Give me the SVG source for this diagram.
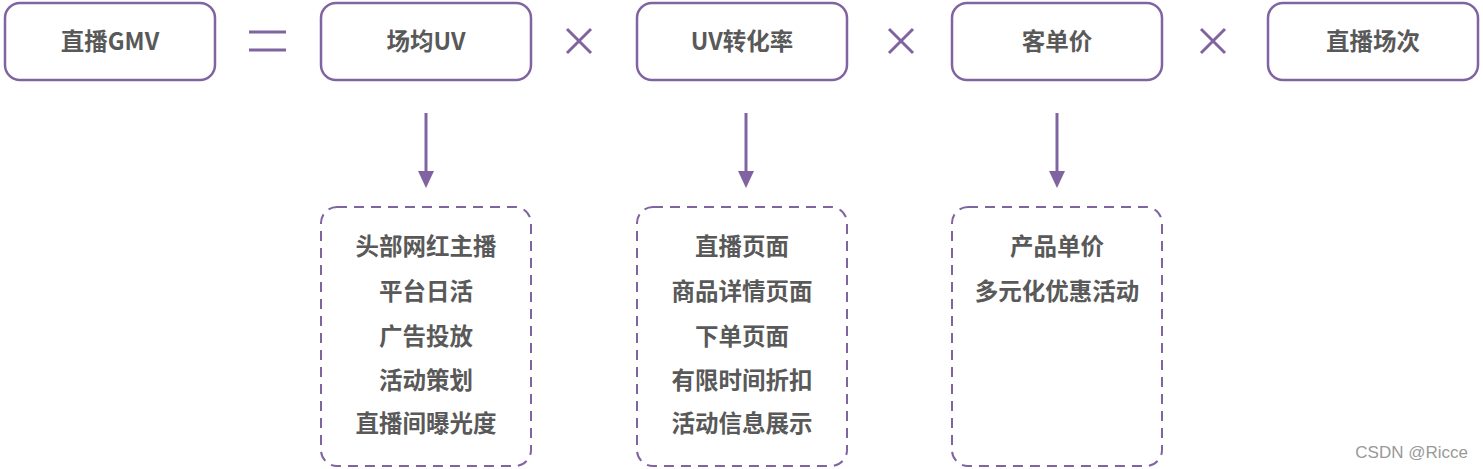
<svg xmlns="http://www.w3.org/2000/svg" width="1483" height="469" viewBox="0 0 1483 469">
  <defs>
    <style>
      .box { fill: #ffffff; stroke: #8064A2; stroke-width: 2.5; }
      .dbox { fill: none; stroke: #8064A2; stroke-width: 2; stroke-dasharray: 10 7; }
      .op { stroke: #8064A2; stroke-width: 3; fill: none; }
      .conn { stroke: #8064A2; stroke-width: 3; fill: none; }
      .t { font-family: "Noto Sans CJK SC", "Liberation Sans", sans-serif; font-weight: bold; font-size: 23.5px; fill: #595959; text-anchor: middle; dominant-baseline: central; }
      .wm { font-family: "Liberation Sans", sans-serif; font-size: 17px; fill: #999999; text-anchor: end; }
    </style>
  </defs>
  <rect width="1483" height="469" fill="#ffffff"/>

  <!-- top row: formula terms -->
  <g id="gmv"><rect class="box" x="5" y="3" width="210" height="77" rx="15"/><text class="t" x="110" y="40">直播GMV</text></g>
  <g id="uv"><rect class="box" x="321" y="3" width="210" height="77" rx="15"/><text class="t" x="426" y="40">场均UV</text></g>
  <g id="cvr"><rect class="box" x="637" y="3" width="210" height="77" rx="15"/><text class="t" x="742" y="40">UV转化率</text></g>
  <g id="aov"><rect class="box" x="952" y="3" width="210" height="77" rx="15"/><text class="t" x="1057" y="40">客单价</text></g>
  <g id="sessions"><rect class="box" x="1268" y="3" width="210" height="77" rx="15"/><text class="t" x="1373" y="40">直播场次</text></g>

  <!-- operators -->
  <g id="operators">
    <path class="op" d="M249,32 H286 M249,50 H286"/>
    <path class="op" d="M567,29 L591,53 M591,29 L567,53"/>
    <path class="op" d="M889,29 L913,53 M913,29 L889,53"/>
    <path class="op" d="M1201,29 L1225,53 M1225,29 L1201,53"/>
  </g>

  <!-- connectors -->
  <g id="connectors">
    <line class="conn" x1="426" y1="113" x2="426" y2="178"/>
    <path d="M418,171 L434,171 L426,188 Z" fill="#8064A2"/>
    <line class="conn" x1="746" y1="113" x2="746" y2="178"/>
    <path d="M738,171 L754,171 L746,188 Z" fill="#8064A2"/>
    <line class="conn" x1="1057" y1="113" x2="1057" y2="178"/>
    <path d="M1049,171 L1065,171 L1057,188 Z" fill="#8064A2"/>
  </g>

  <!-- factor details -->
  <g id="uv-factors">
    <rect class="dbox" x="321" y="207" width="210" height="259" rx="16"/>
    <text class="t" x="426" y="245">头部网红主播</text>
    <text class="t" x="426" y="290">平台日活</text>
    <text class="t" x="426" y="335">广告投放</text>
    <text class="t" x="426" y="379">活动策划</text>
    <text class="t" x="426" y="422">直播间曝光度</text>
  </g>
  <g id="cvr-factors">
    <rect class="dbox" x="637" y="207" width="210" height="259" rx="16"/>
    <text class="t" x="742" y="245">直播页面</text>
    <text class="t" x="742" y="290">商品详情页面</text>
    <text class="t" x="742" y="335">下单页面</text>
    <text class="t" x="742" y="379">有限时间折扣</text>
    <text class="t" x="742" y="422">活动信息展示</text>
  </g>
  <g id="aov-factors">
    <rect class="dbox" x="952" y="207" width="210" height="259" rx="16"/>
    <text class="t" x="1057" y="245">产品单价</text>
    <text class="t" x="1057" y="290">多元化优惠活动</text>
  </g>

  <text class="wm" x="1468" y="458">CSDN @Ricce</text>
</svg>
